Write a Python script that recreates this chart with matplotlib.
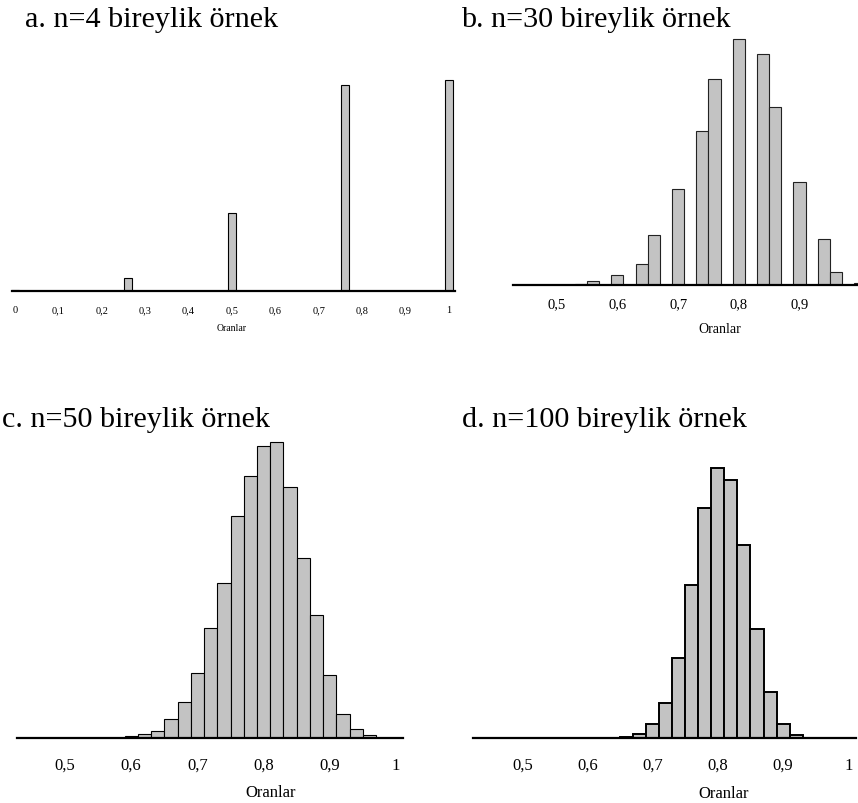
import numpy as np
import matplotlib
matplotlib.use("Agg")
import matplotlib.pyplot as plt

plt.rcParams['font.family'] = ['Liberation Serif', 'DejaVu Serif']

# ---- data: sample proportions and their relative frequencies ----
a_props = [0.0, 0.25, 0.5, 0.75, 1.0]
a_freq = [0.0016, 0.025, 0.154, 0.405, 0.415]

b_props = [k / 30 for k in range(15, 31)]
b_freq = [0.0001, 0.0005, 0.0029, 0.0068, 0.0149, 0.0363, 0.0699, 0.112,
          0.150, 0.1795, 0.1688, 0.1296, 0.0748, 0.0331, 0.0095, 0.0010]

c_props = [k / 50 for k in range(29, 50)]
c_freq = [0.0002, 0.0008, 0.0018, 0.0032, 0.0089, 0.0173, 0.031, 0.0527,
          0.0741, 0.1066, 0.1256, 0.1398, 0.1417, 0.1205, 0.0864, 0.0588,
          0.0302, 0.0115, 0.0042, 0.0013, 0.0002]

d_props = [0.64, 0.66, 0.68, 0.70, 0.72, 0.74, 0.76, 0.78, 0.80, 0.82,
           0.84, 0.86, 0.88, 0.90, 0.92, 0.94]
d_freq = [0.0005, 0.001, 0.0033, 0.0103, 0.0256, 0.0576, 0.1101, 0.1653,
          0.194, 0.1851, 0.1385, 0.0781, 0.0332, 0.0103, 0.0024, 0.0005]

titles = ["a. n=4 bireylik örnek", "b. n=30 bireylik örnek",
          "c. n=50 bireylik örnek", "d. n=100 bireylik örnek"]
xlabel = "Oranlar"
a_ticks = [0, 0.1, 0.2, 0.3, 0.4, 0.5, 0.6, 0.7, 0.8, 0.9, 1.0]
bcd_ticks = [0.5, 0.6, 0.7, 0.8, 0.9, 1.0]

W, H = 858, 804
fig = plt.figure(figsize=(W / 100, H / 100), dpi=100)
edges = np.round(np.arange(-0.01, 1.04, 0.02), 2)


def fmt(v):
    s = f"{v:.1f}".rstrip('0').rstrip('.')
    return s.replace('.', ',')


def make_ax(x0, x1, base, top):
    return fig.add_axes([x0 / W, 1 - base / H, (x1 - x0) / W, (base - top) / H])


def style(ax, ticks, fs, pad, xlim, ylim, spine_lw=1.6):
    ax.set_xlim(*xlim)
    ax.set_ylim(*ylim)
    for s in ['top', 'left', 'right']:
        ax.spines[s].set_visible(False)
    ax.spines['bottom'].set_linewidth(spine_lw)
    ax.spines['bottom'].set_color('black')
    ax.set_yticks([])
    ax.set_xticks(ticks)
    ax.set_xticklabels([fmt(t) for t in ticks])
    ax.tick_params(axis='x', length=0, pad=pad, labelsize=fs)
    ax.patch.set_alpha(0)


fill = '#c3c3c3'

# panel a
base, bartop, axtop = 292, 81, 40
ax = make_ax(12, 455, base, axtop)
ax.hist(a_props, bins=edges, weights=a_freq, color=fill, edgecolor='black', linewidth=0.8)
style(ax, a_ticks, 7.5, 10, ((12 - 15) / 434, (455 - 15) / 434),
      (0, max(a_freq) * (base - axtop) / (base - bartop)))

# panel b
base, bartop, axtop = 285.7, 40, 30
ax = make_ax(513, 880, base, axtop)
ax.hist(b_props, bins=edges, weights=b_freq, color=fill, edgecolor='#222222', linewidth=0.8)
style(ax, bcd_ticks, 10.5, 9, (0.5 + (513 - 556.7) / 607, 0.5 + (880 - 556.7) / 607),
      (0, max(b_freq) * (base - axtop) / (base - bartop)))

# panel c
base, bartop, axtop = 739, 443.3, 430
ax = make_ax(16.7, 403, base, axtop)
ax.hist(c_props, bins=edges, weights=c_freq, color=fill, edgecolor='black', linewidth=0.8)
style(ax, bcd_ticks, 12, 13.5, (0.5 + (16.7 - 65) / 662, 0.5 + (403 - 65) / 662),
      (0, max(c_freq) * (base - axtop) / (base - bartop)))

# panel d
base, bartop, axtop = 739.3, 468.7, 430
ax = make_ax(473.3, 856, base, axtop)
ax.hist(d_props, bins=edges, weights=d_freq, color=fill, edgecolor='black', linewidth=1.4)
style(ax, bcd_ticks, 12, 13.5, (0.5 + (473.3 - 522.3) / 652, 0.5 + (856 - 522.3) / 652),
      (0, max(d_freq) * (base - axtop) / (base - bartop)))

# titles
fig.text(25 / W, 1 - 27 / H, titles[0], fontsize=21.7, ha='left', va='baseline')
fig.text(461 / W, 1 - 27 / H, titles[1], fontsize=21.7, ha='left', va='baseline')
fig.text(2 / W, 1 - 427 / H, titles[2], fontsize=21.7, ha='left', va='baseline')
fig.text(462 / W, 1 - 427 / H, titles[3], fontsize=21.7, ha='left', va='baseline')

# axis labels
fig.text(232 / W, 1 - 329 / H, xlabel, fontsize=7, ha='center', va='center')
fig.text(720 / W, 1 - 330 / H, xlabel, fontsize=10, ha='center', va='center')
fig.text(271 / W, 1 - 793 / H, xlabel, fontsize=12, ha='center', va='center')
fig.text(724 / W, 1 - 794 / H, xlabel, fontsize=12, ha='center', va='center')

fig.savefig("out.png", dpi=100)
